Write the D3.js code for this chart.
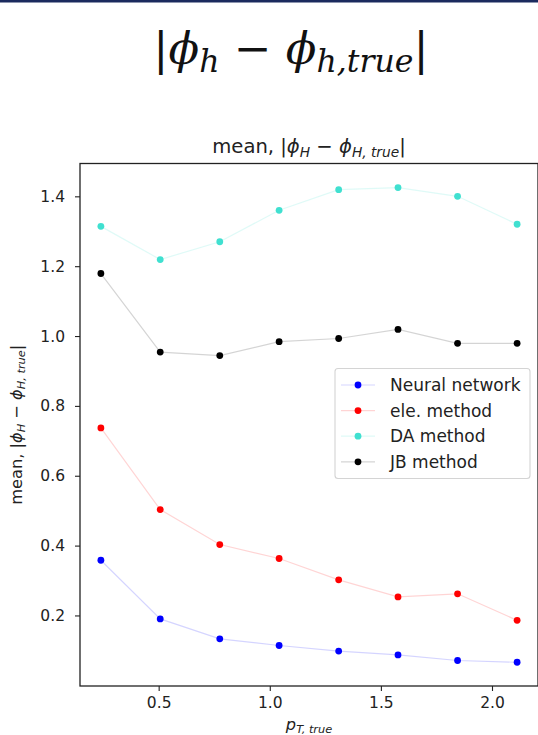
<!DOCTYPE html>
<html>
<head>
<meta charset="utf-8">
<script src="https://cdn.jsdelivr.net/npm/d3@7"></script>
<style>
  body { margin: 0; background: #fff; }
  svg { display: block; }
</style>
</head>
<body>
<script>
// values
const ptTrue = [0.24, 0.507, 0.775, 1.042, 1.31, 1.577, 1.845, 2.113];
const neuralNet = [0.358, 0.19, 0.133, 0.114, 0.098, 0.087, 0.071, 0.066];
const eleMethod = [0.737, 0.503, 0.403, 0.363, 0.302, 0.253, 0.262, 0.186];
const daMethod = [1.314, 1.219, 1.27, 1.36, 1.419, 1.425, 1.4, 1.32];
const jbMethod = [1.179, 0.954, 0.944, 0.984, 0.993, 1.019, 0.979, 0.979];
const seriesNames = ["Neural network", "ele. method", "DA method", "JB method"];
const xTicks = [0.5, 1.0, 1.5, 2.0];
const yTicks = [0.2, 0.4, 0.6, 0.8, 1.0, 1.2, 1.4];

const baseWidth = 538,
  baseHeight = 735;
const margin = { top: 163.5, right: 0, bottom: 49, left: 80 },
  colors = ["#0000ff", "#ff0000", "#40e0d0", "#000000"],
  textColor = "#222";

const width = baseWidth - margin.left - margin.right;
const height = baseHeight - margin.top - margin.bottom;

const series = [neuralNet, eleMethod, daMethod, jbMethod].map((vals, i) => ({
  name: seriesNames[i],
  color: colors[i],
  points: vals.map((v, j) => ({ x: ptTrue[j], y: v })),
}));

const x = d3.scaleLinear().domain([0.146, 2.207]).range([0, width]);
const y = d3.scaleLinear().domain([-0.002, 1.494]).range([height, 0]);

const svg = d3
  .select("body")
  .append("svg")
  .attr("width", baseWidth)
  .attr("height", baseHeight)
  .style("font-family", "'DejaVu Sans', sans-serif");

// thin navy strip at the very top
svg.append("rect").attr("width", baseWidth).attr("height", 2.5).attr("fill", "#1b2a5e");

// writes mathtext-ish pieces: {t, it, sub}
function mathText(sel, parts, size, subShift) {
  let shift = 0;
  parts.forEach((p) => {
    const target = p.sub ? subShift : 0;
    sel
      .append("tspan")
      .attr("dy", target - shift)
      .style("font-size", (p.sub ? size * 0.7 : size) + "px")
      .style("font-style", p.it ? "italic" : "normal")
      .text(p.t);
    shift = target;
  });
}

// big heading
const heading = svg
  .append("text")
  .attr("x", 291)
  .attr("y", 64)
  .attr("text-anchor", "middle")
  .attr("fill", "#111")
  .style("font-family", "'DejaVu Serif', serif")
  .style("font-weight", 300);
mathText(
  heading,
  [
    { t: "|" },
    { t: "ϕ", it: true },
    { t: "h", it: true, sub: true },
    { t: " − " },
    { t: "ϕ", it: true },
    { t: "h,true", it: true, sub: true },
    { t: "|" },
  ],
  45,
  7.5
);

const labelParts = [
  { t: "mean, |" },
  { t: "ϕ", it: true },
  { t: "H", it: true, sub: true },
  { t: " − " },
  { t: "ϕ", it: true },
  { t: "H, true", it: true, sub: true },
  { t: "|" },
];

const chart = svg
  .append("g")
  .attr("transform", "translate(" + margin.left + "," + margin.top + ")");

// title over the axes
const title = chart
  .append("text")
  .attr("x", width / 2)
  .attr("y", -10.5)
  .attr("text-anchor", "middle")
  .attr("fill", textColor);
mathText(title, labelParts, 19.6, 3.5);

// lines + markers
const line = d3
  .line()
  .x((d) => x(d.x))
  .y((d) => y(d.y));

const groups = chart
  .selectAll("g.series")
  .data(series)
  .enter()
  .append("g")
  .attr("class", "series");

groups
  .append("path")
  .attr("d", (d) => line(d.points))
  .attr("fill", "none")
  .attr("stroke", (d) => d.color)
  .attr("stroke-opacity", 0.17)
  .attr("stroke-width", 1.2);

groups
  .selectAll("circle")
  .data((d) => d.points.map((p) => ({ ...p, color: d.color })))
  .enter()
  .append("circle")
  .attr("cx", (d) => x(d.x))
  .attr("cy", (d) => y(d.y))
  .attr("r", 3.4)
  .attr("fill", (d) => d.color);

// axes
const xAxis = d3
  .axisBottom(x)
  .tickValues(xTicks)
  .tickFormat(d3.format(".1f"))
  .tickSize(5)
  .tickPadding(5.5);
const yAxis = d3
  .axisLeft(y)
  .tickValues(yTicks)
  .tickFormat(d3.format(".1f"))
  .tickSize(5)
  .tickPadding(10);

const gx = chart.append("g").attr("transform", "translate(0," + height + ")").call(xAxis);
const gy = chart.append("g").call(yAxis);
[gx, gy].forEach((g) => {
  g.select(".domain").remove();
  g.selectAll("line").attr("stroke", textColor).attr("stroke-width", 1.1);
  g.selectAll("text")
    .attr("fill", textColor)
    .style("font-size", "15.5px")
    .style("font-family", "'DejaVu Sans', sans-serif");
});

// frame
chart
  .append("rect")
  .attr("width", width)
  .attr("height", height)
  .attr("fill", "none")
  .attr("stroke", textColor)
  .attr("stroke-width", 1.3);

// axis labels
const yLabel = svg
  .append("text")
  .attr("transform", "translate(22," + (margin.top + height / 2) + ") rotate(-90)")
  .attr("text-anchor", "middle")
  .attr("fill", textColor);
mathText(yLabel, labelParts, 16.2, 3);

const xLabel = svg
  .append("text")
  .attr("x", margin.left + width / 2)
  .attr("y", 729.5)
  .attr("text-anchor", "middle")
  .attr("fill", textColor);
mathText(
  xLabel,
  [
    { t: "p", it: true },
    { t: "T, true", it: true, sub: true },
  ],
  16.2,
  3
);

// legend
const legendBox = { x: 335, y: 368.5, w: 195, h: 110 };
svg
  .append("rect")
  .attr("x", legendBox.x)
  .attr("y", legendBox.y)
  .attr("width", legendBox.w)
  .attr("height", legendBox.h)
  .attr("rx", 3)
  .attr("fill", "#fff")
  .attr("fill-opacity", 0.85)
  .attr("stroke", "#d4d4d4")
  .attr("stroke-width", 1.1);

const legend = svg
  .selectAll(".legend")
  .data(series)
  .enter()
  .append("g")
  .attr("class", "legend")
  .attr("transform", (d, i) => "translate(0," + (385 + i * 25.6) + ")");

legend
  .append("line")
  .attr("x1", 341)
  .attr("x2", 375)
  .attr("stroke", (d) => d.color)
  .attr("stroke-opacity", 0.17)
  .attr("stroke-width", 1.2);

legend
  .append("circle")
  .attr("cx", 358)
  .attr("r", 3.4)
  .attr("fill", (d) => d.color);

legend
  .append("text")
  .attr("x", 390)
  .attr("dy", "0.36em")
  .attr("fill", textColor)
  .style("font-size", "17px")
  .text((d) => d.name);
</script>
</body>
</html>
